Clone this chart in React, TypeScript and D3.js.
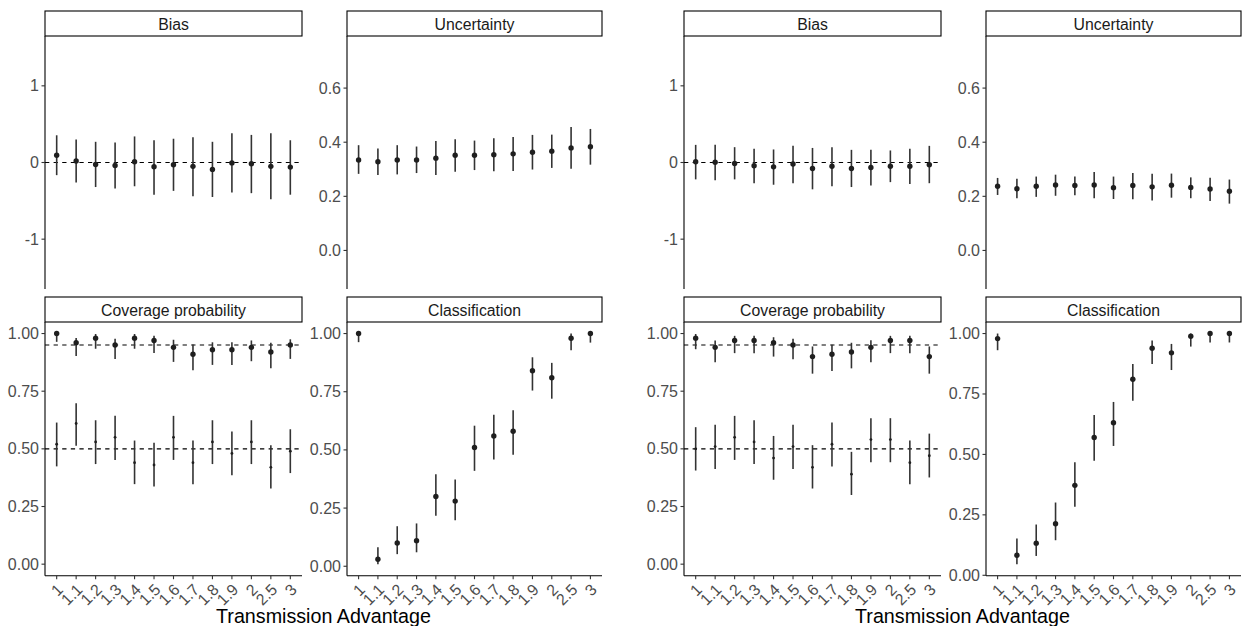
import React from "react";
import * as d3 from "d3";

// x categories (transmission advantage)
const categories = ["1", "1.1", "1.2", "1.3", "1.4", "1.5", "1.6", "1.7", "1.8", "1.9", "2", "2.5", "3"];

// each entry: [estimate, lower, upper]
type Est = [number, number, number];

// ---------- left figure ----------
const biasLeft: Est[] = [
  [0.095, -0.165, 0.355], [0.02, -0.26, 0.3], [-0.026, -0.32, 0.27], [-0.04, -0.34, 0.26],
  [0.01, -0.31, 0.34], [-0.056, -0.42, 0.29], [-0.03, -0.37, 0.31], [-0.05, -0.44, 0.33],
  [-0.09, -0.45, 0.27], [-0.005, -0.39, 0.38], [-0.017, -0.4, 0.36], [-0.05, -0.48, 0.38],
  [-0.06, -0.42, 0.29],
];
const uncertaintyLeft: Est[] = [
  [0.334, 0.283, 0.389], [0.328, 0.279, 0.377], [0.334, 0.281, 0.389], [0.334, 0.286, 0.384],
  [0.341, 0.279, 0.404], [0.352, 0.291, 0.411], [0.352, 0.297, 0.406], [0.354, 0.293, 0.415],
  [0.357, 0.294, 0.419], [0.363, 0.299, 0.427], [0.367, 0.305, 0.428], [0.379, 0.302, 0.456],
  [0.383, 0.317, 0.449],
];
const coverageHighLeft: Est[] = [
  [1.0, 0.964, 1.0], [0.96, 0.903, 0.981], [0.98, 0.934, 0.998], [0.95, 0.89, 0.977],
  [0.98, 0.934, 0.998], [0.97, 0.916, 0.99], [0.94, 0.877, 0.973], [0.91, 0.841, 0.952],
  [0.93, 0.864, 0.962], [0.93, 0.864, 0.962], [0.94, 0.88, 0.97], [0.92, 0.85, 0.96],
  [0.95, 0.89, 0.975],
];
const coverageLowLeft: Est[] = [
  [0.52, 0.424, 0.614], [0.61, 0.513, 0.698], [0.53, 0.434, 0.624], [0.55, 0.452, 0.643],
  [0.44, 0.347, 0.536], [0.43, 0.337, 0.526], [0.55, 0.452, 0.643], [0.44, 0.347, 0.536],
  [0.53, 0.434, 0.624], [0.48, 0.385, 0.575], [0.53, 0.434, 0.624], [0.42, 0.328, 0.516],
  [0.49, 0.395, 0.585],
];
const classificationLeft: Est[] = [
  [1.0, 0.963, 1.0], [0.03, 0.009, 0.082], [0.1, 0.052, 0.172], [0.11, 0.06, 0.184],
  [0.3, 0.217, 0.395], [0.28, 0.198, 0.373], [0.51, 0.41, 0.604], [0.56, 0.459, 0.651],
  [0.58, 0.479, 0.67], [0.84, 0.755, 0.898], [0.81, 0.72, 0.874], [0.98, 0.928, 1.0],
  [1.0, 0.961, 1.0],
];

// ---------- right figure ----------
const biasRight: Est[] = [
  [0.009, -0.22, 0.23], [0.004, -0.23, 0.23], [-0.013, -0.22, 0.2], [-0.043, -0.27, 0.18],
  [-0.057, -0.29, 0.17], [-0.02, -0.27, 0.22], [-0.078, -0.35, 0.19], [-0.048, -0.31, 0.2],
  [-0.078, -0.32, 0.165], [-0.065, -0.3, 0.165], [-0.048, -0.256, 0.157], [-0.048, -0.28, 0.18],
  [-0.03, -0.27, 0.217],
];
const uncertaintyRight: Est[] = [
  [0.237, 0.205, 0.268], [0.228, 0.193, 0.265], [0.237, 0.198, 0.273], [0.242, 0.202, 0.28],
  [0.24, 0.204, 0.273], [0.242, 0.193, 0.29], [0.232, 0.19, 0.273], [0.24, 0.189, 0.286],
  [0.235, 0.185, 0.283], [0.241, 0.195, 0.284], [0.233, 0.193, 0.27], [0.227, 0.183, 0.269],
  [0.219, 0.173, 0.262],
];
const coverageHighRight: Est[] = [
  [0.98, 0.932, 0.998], [0.94, 0.876, 0.97], [0.97, 0.915, 0.99], [0.97, 0.915, 0.99],
  [0.96, 0.9, 0.984], [0.95, 0.889, 0.977], [0.9, 0.826, 0.944], [0.91, 0.838, 0.951],
  [0.92, 0.849, 0.96], [0.94, 0.875, 0.971], [0.97, 0.915, 0.99], [0.97, 0.915, 0.99],
  [0.9, 0.826, 0.944],
];
const coverageLowRight: Est[] = [
  [0.5, 0.406, 0.594], [0.51, 0.413, 0.604], [0.55, 0.452, 0.643], [0.53, 0.434, 0.624],
  [0.46, 0.366, 0.556], [0.51, 0.413, 0.604], [0.42, 0.328, 0.516], [0.52, 0.424, 0.614],
  [0.39, 0.3, 0.487], [0.54, 0.442, 0.633], [0.54, 0.442, 0.633], [0.44, 0.347, 0.536],
  [0.47, 0.376, 0.566],
];
const classificationRight: Est[] = [
  [0.979, 0.931, 1.0], [0.083, 0.046, 0.152], [0.133, 0.08, 0.21], [0.213, 0.145, 0.301],
  [0.372, 0.283, 0.468], [0.57, 0.474, 0.663], [0.631, 0.535, 0.717], [0.811, 0.722, 0.874],
  [0.939, 0.874, 0.971], [0.92, 0.849, 0.957], [0.989, 0.946, 1.0], [1.0, 0.963, 1.0],
  [1.0, 0.963, 1.0],
];

// tick values
const biasTicks = [-1, 0, 1];
const uncertaintyTicks = [0, 0.2, 0.4, 0.6];
const probTicks = [0, 0.25, 0.5, 0.75, 1];
const biasRef = [0];
const coverageRefs = [0.95, 0.5];

const FONT = "'Liberation Sans', Arial, Helvetica, sans-serif";

type Series = { data: Est[]; r: number };
type PanelProps = {
  x0: number; x1: number; y0: number; y1: number;
  title: string; domain: [number, number]; ticks: number[]; fmt: string;
  series: Series[]; refs: number[]; showX: boolean;
};

function Panel({ x0, x1, y0, y1, title, domain, ticks, fmt, series, refs, showX }: PanelProps) {
  const x = d3.scalePoint<string>().domain(categories).range([x0, x1]).padding(0.6);
  const y = d3.scaleLinear().domain(domain).range([y1, y0]);
  const fBase = d3.format(fmt);
  const f = (v: number) => fBase(v).replace("\u2212", "-");
  const stripH = 25;
  return (
    <g>
      {/* strip */}
      <rect x={x0} y={y0 - stripH} width={x1 - x0} height={stripH} fill="#fff" stroke="#000" strokeWidth={1.1} />
      <text x={(x0 + x1) / 2} y={y0 - stripH / 2 + 0.5} textAnchor="middle" dominantBaseline="central"
        fontSize={15.8} fill="#1a1a1a" fontFamily={FONT}>{title}</text>
      {/* reference lines */}
      {refs.map((r) => (
        <line key={"ref" + r} x1={x0} x2={x1} y1={y(r)} y2={y(r)} stroke="#000" strokeWidth={1.1} strokeDasharray="4.3,4.3" />
      ))}
      {/* point ranges */}
      {series.map((s, si) => (
        <g key={"s" + si}>
          {s.data.map((d, i) => (
            <g key={i}>
              <line x1={x(categories[i])} x2={x(categories[i])} y1={y(d[1])} y2={y(d[2])} stroke="#333" strokeWidth={1.6} />
              <circle cx={x(categories[i])} cy={y(d[0])} r={s.r} fill="#1f1f1f" />
            </g>
          ))}
        </g>
      ))}
      {/* y axis */}
      <line x1={x0} x2={x0} y1={y0} y2={y1} stroke="#000" strokeWidth={1.1} />
      {ticks.map((t) => (
        <g key={"t" + t}>
          <line x1={x0 - 3.5} x2={x0} y1={y(t)} y2={y(t)} stroke="#333" strokeWidth={1.1} />
          <text x={x0 - 6} y={y(t)} textAnchor="end" dominantBaseline="central" fontSize={16}
            fill="#4d4d4d" fontFamily={FONT}>{f(t)}</text>
        </g>
      ))}
      {/* x axis */}
      {showX && (
        <g>
          <line x1={x0} x2={x1} y1={y1} y2={y1} stroke="#000" strokeWidth={1.1} />
          {categories.map((c) => (
            <g key={"x" + c}>
              <line x1={x(c)} x2={x(c)} y1={y1} y2={y1 + 3.5} stroke="#333" strokeWidth={1.1} />
              <text transform={`translate(${(x(c) as number) - 0.5},${y1 + 7})  rotate(-45)`} textAnchor="end"
                dominantBaseline="hanging" fontSize={16} fill="#4d4d4d" fontFamily={FONT}>{c}</text>
            </g>
          ))}
        </g>
      )}
    </g>
  );
}

export default function App() {
  const cols: [number, number][] = [[45, 302], [347, 602], [684, 941], [986, 1241]];
  const top: [number, number] = [36, 289];
  const bot: [number, number] = [322, 575.7];
  const halves = [
    { c: 0, bias: biasLeft, unc: uncertaintyLeft, covH: coverageHighLeft, covL: coverageLowLeft, cls: classificationLeft, clsDom: [-0.0406, 1.0496] as [number, number] },
    { c: 2, bias: biasRight, unc: uncertaintyRight, covH: coverageHighRight, covL: coverageLowRight, cls: classificationRight, clsDom: [-0.0017, 1.0477] as [number, number] },
  ];
  return (
    <svg width={1246} height={626} style={{ position: "absolute", left: 0, top: 0, background: "#fff" }}>
      <rect width={1246} height={626} fill="#fff" />
      {halves.map((h, hi) => {
        const a = cols[h.c], b = cols[h.c + 1];
        return (
          <g key={hi}>
            <Panel x0={a[0]} x1={a[1]} y0={top[0]} y1={top[1]} title="Bias" domain={[-1.65, 1.65]}
              ticks={biasTicks} fmt="d" series={[{ data: h.bias, r: 2.7 }]} refs={biasRef} showX={false} />
            <Panel x0={b[0]} x1={b[1]} y0={top[0]} y1={top[1]} title="Uncertainty" domain={[-0.1425, 0.7925]}
              ticks={uncertaintyTicks} fmt=".1f" series={[{ data: h.unc, r: 2.7 }]} refs={[]} showX={false} />
            <Panel x0={a[0]} x1={a[1]} y0={bot[0]} y1={bot[1]} title="Coverage probability" domain={[-0.05, 1.05]}
              ticks={probTicks} fmt=".2f" series={[{ data: h.covH, r: 2.7 }, { data: h.covL, r: 1.4 }]} refs={coverageRefs} showX={true} />
            <Panel x0={b[0]} x1={b[1]} y0={bot[0]} y1={bot[1]} title="Classification" domain={h.clsDom}
              ticks={probTicks} fmt=".2f" series={[{ data: h.cls, r: 2.7 }]} refs={[]} showX={true} />
            <text x={(a[0] + b[1]) / 2} y={623} textAnchor="middle" fontSize={19.7} fill="#000" fontFamily={FONT}>
              Transmission Advantage
            </text>
          </g>
        );
      })}
    </svg>
  );
}
